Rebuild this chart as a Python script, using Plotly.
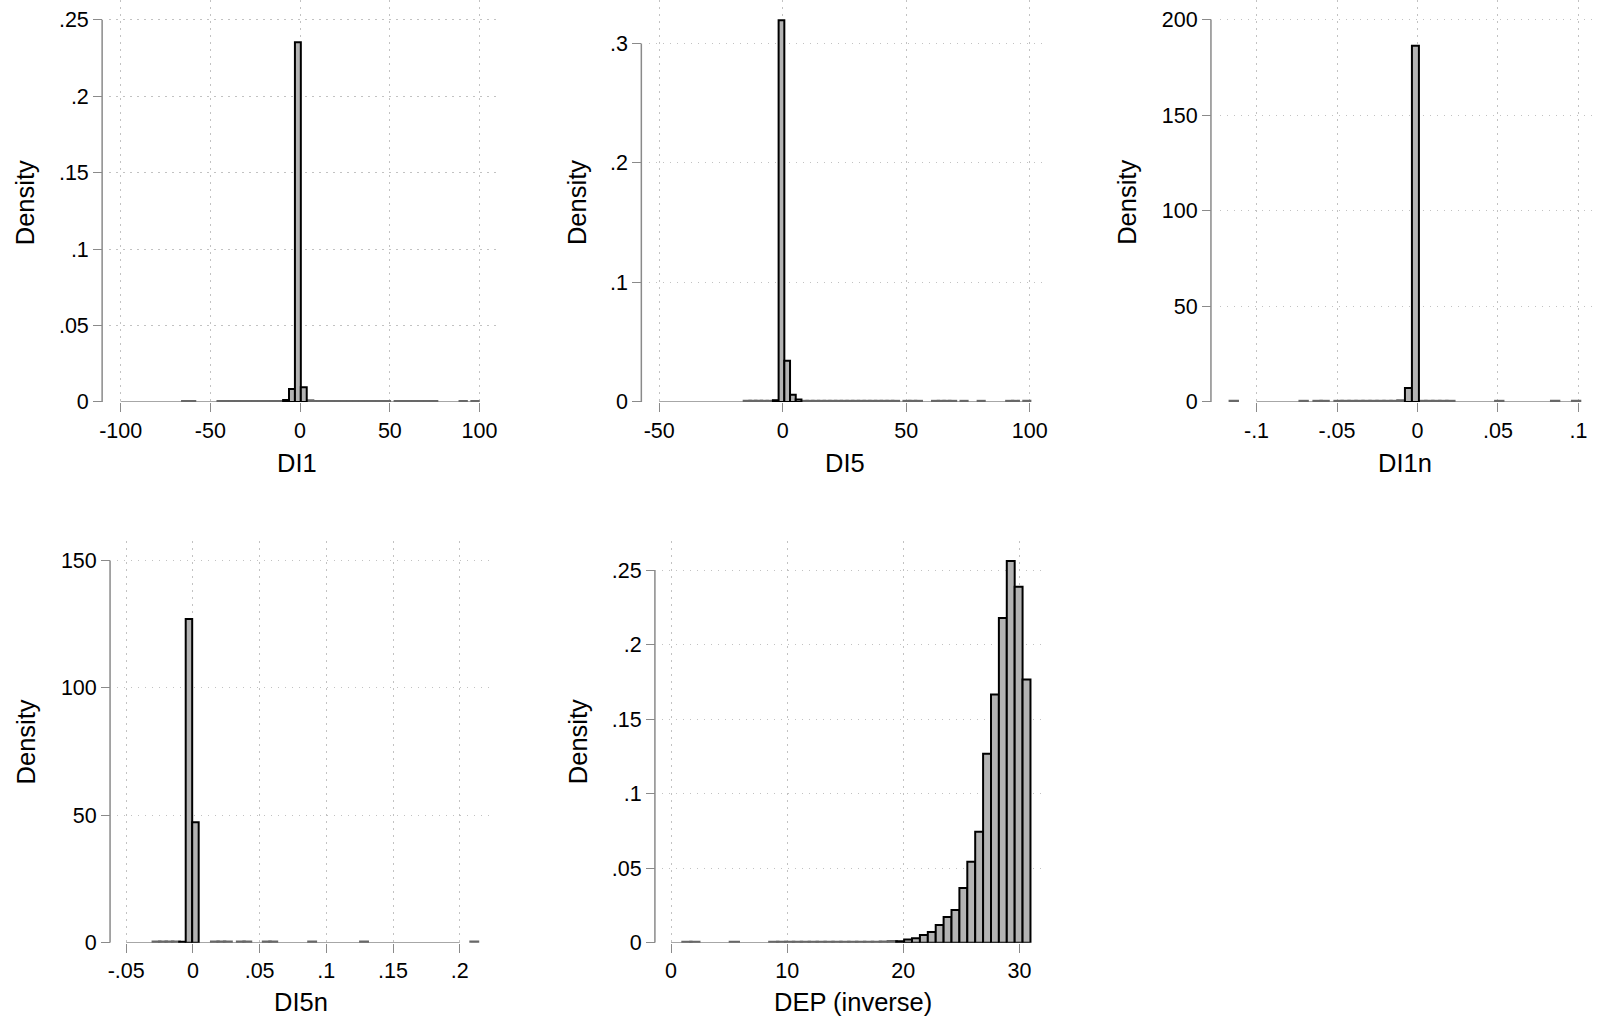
import plotly.graph_objects as go

# ---------------- data (histogram densities) ----------------
t1 = 0.0002
DI1_start, DI1_width = -65.4, 3.29
DI1_density = [t1, t1, 0, 0, 0, 0, t1, t1, t1, t1,
               t1, t1, t1, t1, t1, t1, t1, 0.0012, 0.0084, 0.2353,
               0.0095, 0.0006, t1, t1, t1, t1, t1, t1, t1, t1,
               t1, t1, t1, t1, t1, 0, t1, t1, t1, t1,
               t1, t1, t1, 0, 0, 0, 0, t1, 0, t1]

t2 = 0.0003
DI5_start, DI5_width = -15.5, 2.31
DI5_density = [t2, t2, t2, t2, t2, 0.0014, 0.3193, 0.0344, 0.0060, 0.0019,
               t2, t2, t2, t2, t2, t2, t2, t2, t2, t2,
               t2, t2, t2, t2, t2, t2, t2, 0, t2, t2,
               t2, 0, 0, t2, t2, t2, t2, 0, t2, 0,
               0, t2, 0, 0, 0, 0, t2, t2, 0, t2]

t3 = 0.2
DI1n_start, DI1n_width = -0.1163, 0.00434
DI1n_density = [t3, 0, 0, 0, 0, 0, 0, 0, 0, 0,
                t3, 0, t3, t3, 0, t3, t3, t3, t3, t3,
                t3, t3, t3, t3, 0.5, 7.2, 186.3, t3, t3, t3,
                t3, t3, 0, 0, 0, 0, 0, 0, t3, 0,
                0, 0, 0, 0, 0, 0, t3, 0, 0, t3]

t4 = 0.15
DI5n_start, DI5n_width = -0.0297, 0.00486
DI5n_density = [t4, t4, t4, t4, 0.4, 127.0, 47.3, 0, 0, t4,
                t4, t4, 0, t4, t4, 0, 0, t4, t4, 0,
                0, 0, 0, 0, t4, 0, 0, 0, 0, 0,
                0, 0, t4, 0, 0, 0, 0, 0, 0, 0,
                0, 0, 0, 0, 0, 0, 0, 0, 0, t4]

t5 = 0.0002
DEP_start, DEP_width = 1.03, 0.68
DEP_density = [t5, t5, 0, 0, 0, 0, t5, 0, 0, 0,
               0, t5, t5, t5, t5, t5, t5, t5, t5, t5,
               t5, t5, t5, t5, t5, 0.0003, 0.0006, 0.0009, 0.0022, 0.0029,
               0.0051, 0.0071, 0.0119, 0.0172, 0.0219, 0.0367, 0.0543, 0.0744, 0.1268, 0.1665,
               0.2178, 0.2560, 0.2387, 0.1765]

# tick values / labels
DI1_xticks = [-100, -50, 0, 50, 100]
DI1_xlabels = ["-100", "-50", "0", "50", "100"]
DI1_yticks = [0, 0.05, 0.1, 0.15, 0.2, 0.25]
DI1_ylabels = ["0", ".05", ".1", ".15", ".2", ".25"]

DI5_xticks = [-50, 0, 50, 100]
DI5_xlabels = ["-50", "0", "50", "100"]
DI5_yticks = [0, 0.1, 0.2, 0.3]
DI5_ylabels = ["0", ".1", ".2", ".3"]

DI1n_xticks = [-0.1, -0.05, 0, 0.05, 0.1]
DI1n_xlabels = ["-.1", "-.05", "0", ".05", ".1"]
DI1n_yticks = [0, 50, 100, 150, 200]
DI1n_ylabels = ["0", "50", "100", "150", "200"]

DI5n_xticks = [-0.05, 0, 0.05, 0.1, 0.15, 0.2]
DI5n_xlabels = ["-.05", "0", ".05", ".1", ".15", ".2"]
DI5n_yticks = [0, 50, 100, 150]
DI5n_ylabels = ["0", "50", "100", "150"]

DEP_xticks = [0, 10, 20, 30]
DEP_xlabels = ["0", "10", "20", "30"]
DEP_yticks = [0, 0.05, 0.1, 0.15, 0.2, 0.25]
DEP_ylabels = ["0", ".05", ".1", ".15", ".2", ".25"]

titles = ["DI1", "DI5", "DI1n", "DI5n", "DEP (inverse)"]

# ---------------- layout geometry (pixels) ----------------
W, H = 1603, 1034
FONT = "Liberation Sans, Arial, Helvetica, sans-serif"
FILL = "#b3b3b3"
AXC = "#8a8a8a"
GRIDC = "#c2c2c2"
TICKSIZE = 21.5
TITLESIZE = 25.5

panels = [
    dict(start=DI1_start, width=DI1_width, dens=DI1_density,
         xt=DI1_xticks, xl=DI1_xlabels, yt=DI1_yticks, yl=DI1_ylabels,
         xr=[-106.46, 109.94], yr=[0, 0.2629], dom=[100, 492], ypos=93, row=0,
         title=titles[0], tx=290, dx=16),
    dict(start=DI5_start, width=DI5_width, dens=DI5_density,
         xt=DI5_xticks, xl=DI5_xlabels, yt=DI5_yticks, yl=DI5_ylabels,
         xr=[-54.13, 105.09], yr=[0, 0.3363], dom=[645, 1042], ypos=637.3, row=0,
         title=titles[1], tx=843, dx=573),
    dict(start=DI1n_start, width=DI1n_width, dens=DI1n_density,
         xt=DI1n_xticks, xl=DI1n_xlabels, yt=DI1n_yticks, yl=DI1n_ylabels,
         xr=[-0.12295, 0.11028], yr=[0, 210.2], dom=[1221, 1600], ypos=1212.3, row=0,
         title=titles[2], tx=1408, dx=1128),
    dict(start=DI5n_start, width=DI5n_width, dens=DI5n_density,
         xt=DI5n_xticks, xl=DI5n_xlabels, yt=DI5n_yticks, yl=DI5n_ylabels,
         xr=[-0.0569, 0.2230], yr=[0, 157.6], dom=[108, 485], ypos=101, row=1,
         title=titles[3], tx=294, dx=16),
    dict(start=DEP_start, width=DEP_width, dens=DEP_density,
         xt=DEP_xticks, xl=DEP_xlabels, yt=DEP_yticks, yl=DEP_ylabels,
         xr=[-0.793, 32.22], yr=[0, 0.2694], dom=[658, 1045], ypos=651, row=1,
         title=titles[4], tx=851, dx=573),
]

rows = [dict(bottom=407, top=0, title_y=469, dens_y=205),
        dict(bottom=954.7, top=548, title_y=1015, dens_y=751)]

fig = go.Figure()
layout = dict(width=W, height=H, margin=dict(l=0, r=0, t=0, b=0),
              paper_bgcolor="white", plot_bgcolor="white", showlegend=False,
              barmode="overlay", font=dict(family=FONT, size=TICKSIZE, color="black"))
shapes = []
annotations = []

for i, p in enumerate(panels):
    s = "" if i == 0 else str(i + 1)
    r = rows[p["row"]]
    w = p["width"]
    centers = [p["start"] + (k + 0.5) * w for k in range(len(p["dens"]))]
    thr = 0.0025 * p["yr"][1]
    main_x = [c for c, d in zip(centers, p["dens"]) if d >= thr]
    main_y = [d for d in p["dens"] if d >= thr]
    tiny_x = [c for c, d in zip(centers, p["dens"]) if 0 < d < thr]
    tiny_y = [d for d in p["dens"] if 0 < d < thr]

    fig.add_trace(go.Bar(x=tiny_x, y=tiny_y, width=w, xaxis="x" + s, yaxis="y" + s,
                         marker=dict(color=FILL, line=dict(color="#686868", width=3.4)),
                         hoverinfo="skip"))
    fig.add_trace(go.Bar(x=main_x, y=main_y, width=w, xaxis="x" + s, yaxis="y" + s,
                         marker=dict(color=FILL, line=dict(color="black", width=2))))

    ydom = [(H - r["bottom"]) / H, (H - r["top"]) / H]
    common = dict(tickmode="array", ticks="outside", ticklen=9, tickwidth=1.3,
                  tickcolor=AXC, showline=False, zeroline=False, showgrid=True,
                  gridcolor=GRIDC, gridwidth=1.3, griddash="1.5px,5.5px",
                  tickfont=dict(family=FONT, size=TICKSIZE, color="black"),
                  fixedrange=True)
    layout["xaxis" + s] = dict(
        domain=[p["dom"][0] / W, p["dom"][1] / W], range=p["xr"], anchor="y" + s,
        tickvals=p["xt"], ticktext=p["xl"], **common)
    layout["yaxis" + s] = dict(
        domain=ydom, range=p["yr"], anchor="free", position=p["ypos"] / W,
        tickvals=p["yt"], ticktext=p["yl"], **common)

    # axis lines spanning only the tick range (Stata style)
    shapes.append(dict(type="line", xref="x" + s, yref="y" + s,
                       x0=p["xt"][0], x1=p["xt"][-1], y0=0, y1=0,
                       line=dict(color=AXC, width=1.5), layer="between"))
    shapes.append(dict(type="line", xref="paper", yref="y" + s,
                       x0=p["ypos"] / W, x1=p["ypos"] / W, y0=0, y1=p["yt"][-1],
                       line=dict(color=AXC, width=1.5), layer="between"))

    annotations.append(dict(text=p["title"], xref="paper", yref="paper",
                            x=p["tx"] / W, y=(H - r["title_y"]) / H,
                            xanchor="center", yanchor="middle", showarrow=False,
                            font=dict(family=FONT, size=TITLESIZE, color="black")))
    annotations.append(dict(text="Density", xref="paper", yref="paper",
                            x=p["dx"] / W, y=(H - r["dens_y"]) / H, textangle=-90,
                            xanchor="center", yanchor="middle", showarrow=False,
                            font=dict(family=FONT, size=TITLESIZE, color="black")))

layout["shapes"] = shapes
layout["annotations"] = annotations
fig.update_layout(**layout)
fig.write_html("out.html")
